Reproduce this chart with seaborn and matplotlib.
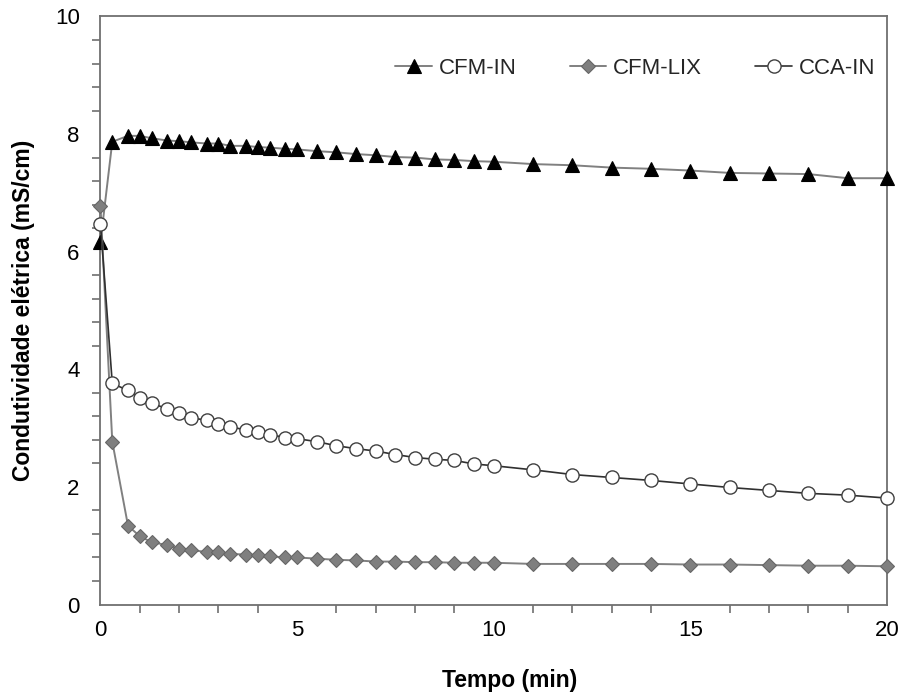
import matplotlib
matplotlib.use("Agg")
import matplotlib.pyplot as plt
from matplotlib.ticker import MultipleLocator
import seaborn as sns
import pandas as pd

tempo = [0, 0.3, 0.7, 1, 1.3, 1.7, 2, 2.3, 2.7, 3, 3.3, 3.7, 4, 4.3, 4.7, 5,
         5.5, 6, 6.5, 7, 7.5, 8, 8.5, 9, 9.5, 10,
         11, 12, 13, 14, 15, 16, 17, 18, 19, 20]

cfm_in = [6.17, 7.87, 7.97, 7.97, 7.93, 7.89, 7.88, 7.86, 7.84, 7.84, 7.80, 7.80,
          7.78, 7.77, 7.75, 7.74, 7.71, 7.69, 7.66, 7.64, 7.61, 7.60, 7.57, 7.56,
          7.54, 7.53, 7.49, 7.47, 7.43, 7.41, 7.38, 7.34, 7.33, 7.32, 7.25, 7.25]

cfm_lix = [6.77, 2.77, 1.34, 1.16, 1.06, 1.01, 0.95, 0.93, 0.89, 0.89, 0.86, 0.85,
           0.84, 0.82, 0.80, 0.80, 0.78, 0.76, 0.75, 0.73, 0.73, 0.72, 0.72, 0.71,
           0.71, 0.71, 0.69, 0.69, 0.69, 0.69, 0.68, 0.68, 0.67, 0.66, 0.66, 0.65]

cca_in = [6.47, 3.76, 3.64, 3.52, 3.42, 3.33, 3.26, 3.18, 3.13, 3.07, 3.02, 2.97,
          2.93, 2.89, 2.84, 2.82, 2.77, 2.70, 2.65, 2.61, 2.55, 2.50, 2.47, 2.45,
          2.39, 2.36, 2.29, 2.21, 2.16, 2.11, 2.05, 1.99, 1.94, 1.89, 1.86, 1.81]

series_names = ["CFM-IN", "CFM-LIX", "CCA-IN"]
x_label = "Tempo (min)"
y_label = "Condutividade elétrica (mS/cm)"

sns.set_theme(style="white")
plt.rcParams["font.family"] = ["Liberation Sans", "DejaVu Sans"]

fig = plt.figure(figsize=(9.02, 6.93), dpi=100)
ax = fig.add_axes([0.1114, 0.1277, 0.8720, 0.8485])

df = pd.DataFrame({"t": tempo, "CFM-IN": cfm_in, "CFM-LIX": cfm_lix, "CCA-IN": cca_in})

styles = {
    "CFM-IN": dict(color="#808080", marker="^", markersize=10, markerfacecolor="black",
                   markeredgecolor="black", markeredgewidth=0.8, linewidth=1.4),
    "CFM-LIX": dict(color="#808080", marker="D", markersize=7.5, markerfacecolor="#7f7f7f",
                    markeredgecolor="#666666", markeredgewidth=0.8, linewidth=1.4),
    "CCA-IN": dict(color="#303030", marker="o", markersize=9.5, markerfacecolor="white",
                   markeredgecolor="#404040", markeredgewidth=1.0, linewidth=1.2),
}

for name in series_names:
    sns.lineplot(data=df, x="t", y=name, ax=ax, label=name, clip_on=False, zorder=3,
                 **styles[name])

ax.set_xlim(0, 20)
ax.set_ylim(0, 10)
ax.xaxis.set_major_locator(MultipleLocator(5))
ax.xaxis.set_minor_locator(MultipleLocator(1))
ax.yaxis.set_major_locator(MultipleLocator(2))
ax.yaxis.set_minor_locator(MultipleLocator(0.4))

for s in ax.spines.values():
    s.set_color("#707070")
    s.set_linewidth(1.3)

ax.tick_params(axis="both", which="major", direction="inout", length=14, width=1.2,
               color="#707070", labelsize=16, labelcolor="black")
ax.tick_params(axis="x", which="major", pad=4)
ax.tick_params(axis="y", which="major", pad=8)
ax.tick_params(axis="both", which="minor", direction="out", length=6, width=1.2,
               color="#707070", bottom=True, left=True)
ax.tick_params(top=False, right=False, which="both")

ax.set_xlabel(x_label, fontsize=16.5, fontweight="bold", color="black")
ax.set_ylabel(y_label, fontsize=16.5, fontweight="bold", color="black")
ax.xaxis.set_label_coords(0.5207, -0.11)
ax.yaxis.set_label_coords(-0.083, 0.5)

leg = ax.legend(loc="center right", bbox_to_anchor=(0.985, 0.912), ncol=3, frameon=False,
                fontsize=16, handlelength=1.65, handletextpad=0.3, columnspacing=2.4,
                borderpad=0, borderaxespad=0)

fig.savefig("out.png", dpi=100)
